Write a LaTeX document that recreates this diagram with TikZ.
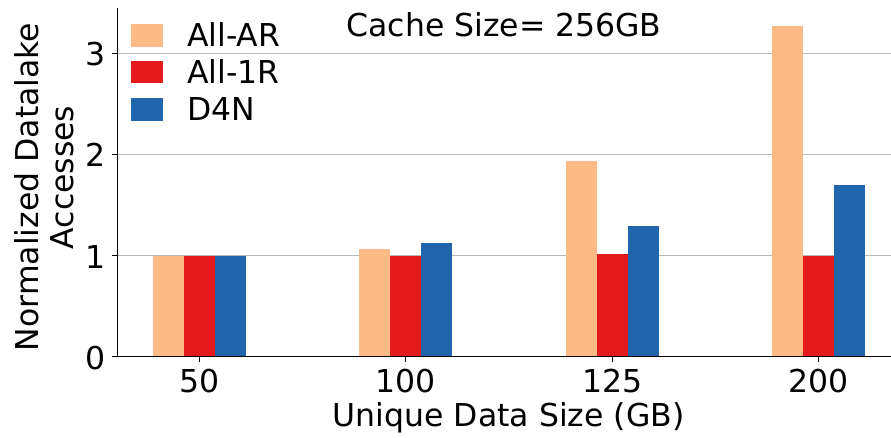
\documentclass[tikz,border=0pt]{standalone}
\usepackage{fontspec}
\setmainfont{DejaVu Sans}
\definecolor{cAR}{HTML}{FCBB84}
\definecolor{c1R}{HTML}{E41A1C}
\definecolor{cDN}{HTML}{2166AC}
\definecolor{gridc}{HTML}{B8B8B8}
\newcommand\mybar[3]{\fill[#3] (#1,80.3) rectangle ({#1+31},{80.3+101*#2});}
\begin{document}
\begin{tikzpicture}[x=1pt,y=1pt,
  lbl/.style={font=\fontsize{31.5}{36}\selectfont, inner sep=0pt},
  gridline/.style={draw=gridc, line width=1.3pt},
  spine/.style={draw=black, line width=1.1pt},
  tickmark/.style={draw=black, line width=1.1pt}]
\useasboundingbox (0,0) rectangle (891,437);
% grid
\foreach \k in {1,2,3} {\draw[gridline] (117.3,{80.3+101*\k}) -- (891,{80.3+101*\k});}
% bars
\foreach \c/\a/\b/\d in {199.7/1/1/1, 405.9/1.066/1.0/1.126, 612.1/1.937/1.017/1.294, 818.3/3.274/1.0/1.70} {
  \mybar{\c-46.5}{\a}{cAR}
  \mybar{\c-15.5}{\b}{c1R}
  \mybar{\c+15.5}{\d}{cDN}
}
% spines
\coordinate (o) at (117.3,80.3);
\coordinate (ytop) at (117.3,428.7);
\coordinate (xend) at (891,80.3);
\draw[spine] (ytop) -- (o) -- (xend);
% y ticks
\foreach \k in {0,1,2,3} {
  \draw[tickmark] (112.3,{80.3+101*\k}) -- (117.3,{80.3+101*\k});
  \node[lbl, anchor=base east] (yt\k) at (106,{68+101*\k}) {\k};
}
% x ticks
\foreach \c/\t in {199.7/50, 405.9/100, 612.1/125, 818.3/200} {
  \draw[tickmark] (\c,80.3) -- (\c,75.3);
  \node[lbl, anchor=base] (xt\t) at (\c,45) {\t};
}
% axis labels
\node[lbl, anchor=base] (xl) at (508.5,10.3) {Unique Data Size (GB)};
\node[lbl, anchor=base, rotate=90] (yl1) at (38,250) {Normalized Datalake};
\node[lbl, anchor=base, rotate=90] (yl2) at (73,259.5) {Accesses};
% title
\node[lbl, anchor=base] (title) at (504,400.3) {Cache Size= 256GB};
% legend
\fill[cAR] (131,390.3) rectangle (162.7,413);
\fill[c1R] (131,353.7) rectangle (162.7,376.4);
\fill[cDN] (131,316.3) rectangle (162.7,339);
\node[lbl, anchor=base west] (lg1) at (187,390.3) {All-AR};
\node[lbl, anchor=base west] (lg2) at (187,353.7) {All-1R};
\node[lbl, anchor=base west] (lg3) at (187,316.3) {D4N};
\end{tikzpicture}
\end{document}
